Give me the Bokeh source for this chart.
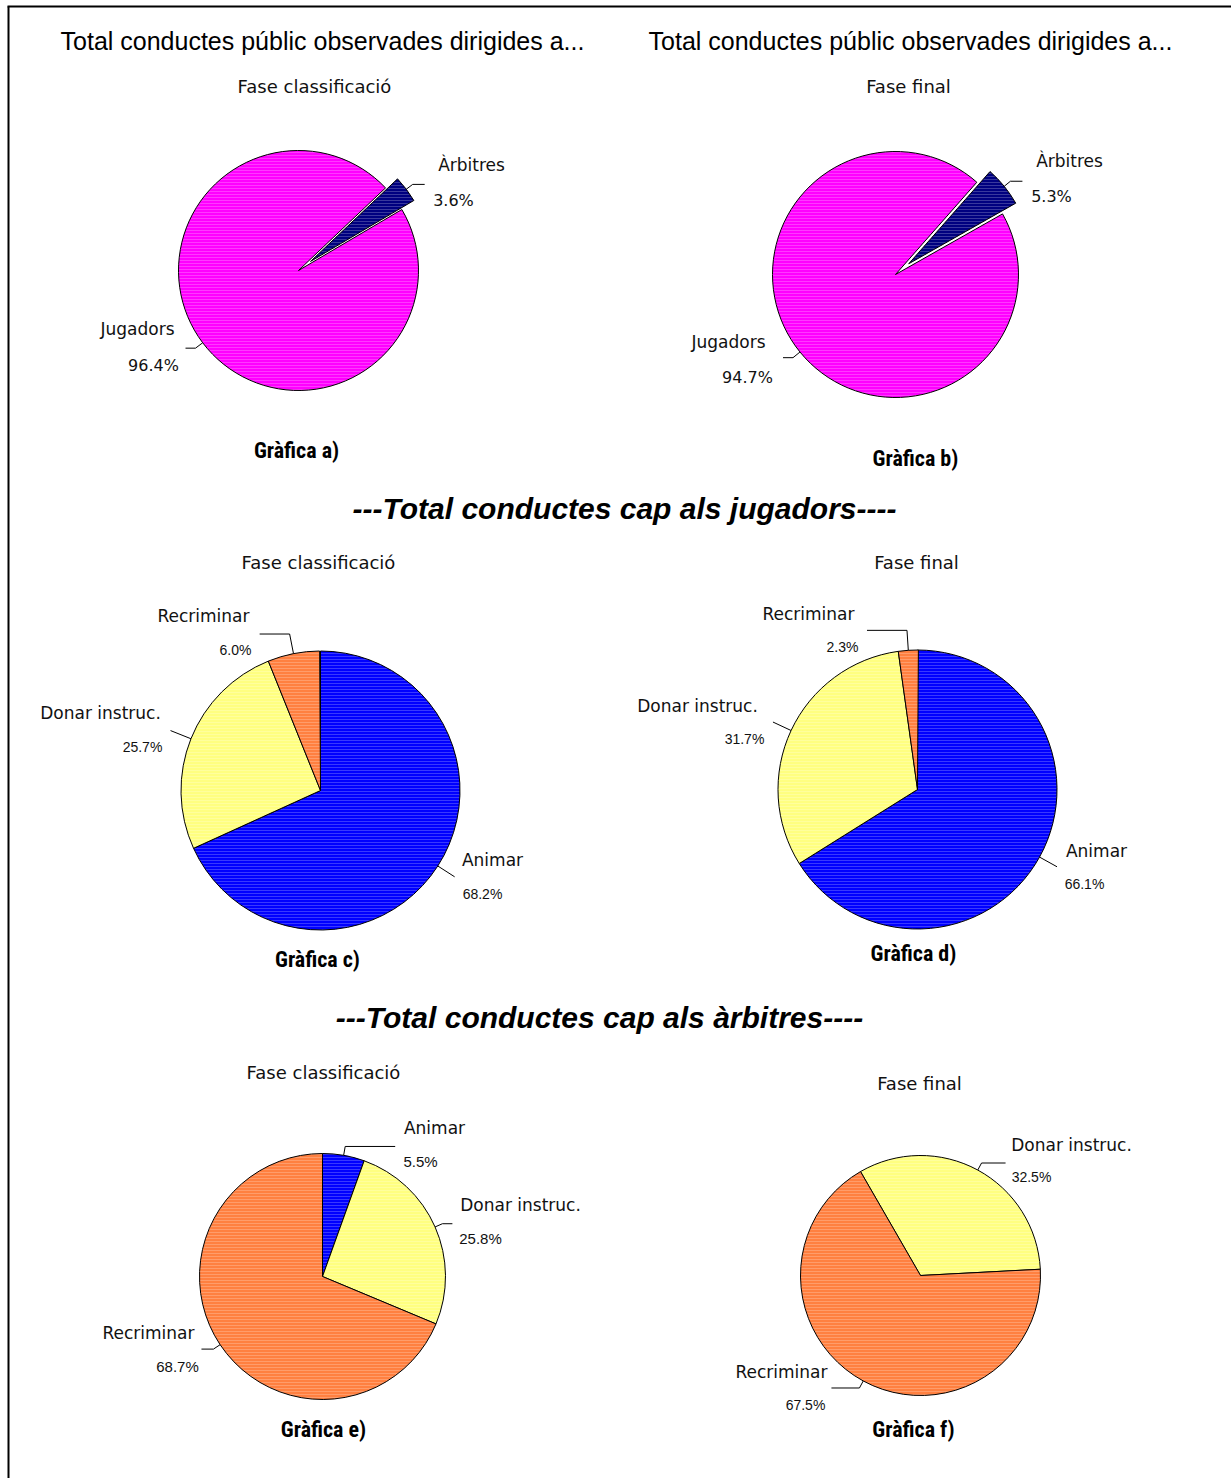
import math
from bokeh.plotting import figure
from bokeh.models import Range1d
from bokeh.embed import file_html
from bokeh.resources import INLINE
from bokeh.core.properties import value

# ---------------- data ----------------
cats_ab = ["Àrbitres", "Jugadors"]
pct_a = [3.6, 96.4]
pct_b = [5.3, 94.7]
cats_cd = ["Animar", "Donar instruc.", "Recriminar"]
pct_c = [68.2, 25.7, 6.0]
pct_d = [66.1, 31.7, 2.3]
cats_e = ["Animar", "Donar instruc.", "Recriminar"]
pct_e = [5.5, 25.8, 68.7]
cats_f = ["Donar instruc.", "Recriminar"]
pct_f = [32.5, 67.5]

title_top = "Total conductes públic observades dirigides a..."
phase_labels = ["Fase classificació", "Fase final"]
captions = ["Gràfica a)", "Gràfica b)", "Gràfica c)", "Gràfica d)", "Gràfica e)", "Gràfica f)"]
section_titles = ["---Total conductes cap als jugadors----", "---Total conductes cap als àrbitres----"]

colors = {
    "Àrbitres": "#000080",
    "Jugadors": "#FF00FF",
    "Animar": "#0000FF",
    "Donar instruc.": "#FFFF80",
    "Recriminar": "#FF8040",
}

# ---------------- layout ----------------
W, H = 1231, 1478


def X(px):
    return px


def Y(py):
    return H - py


p = figure(width=W, height=H, output_backend="svg", toolbar_location=None,
           x_range=Range1d(0, W), y_range=Range1d(0, H), min_border=0)
p.axis.visible = False
p.grid.visible = False
p.outline_line_color = None
p.background_fill_color = "white"
p.border_fill_color = "white"

SANS = value("'Liberation Sans', Arial, sans-serif")
VERD = value("'DejaVu Sans', Verdana, sans-serif")
NARROW = value("'Liberation Sans Narrow', 'Arial Narrow', 'Roboto Condensed', 'Open Sans Condensed', 'Liberation Sans', sans-serif")

# frame (top & left)
p.line([X(8), X(8)], [Y(1478), Y(6)], line_color="black", line_width=2)
p.line([X(7), X(1231)], [Y(6), Y(6)], line_color="black", line_width=2)


def draw_pie(cats, pcts, spec):
    cx, cy, r, start = spec["center"][0], spec["center"][1], spec["r"], spec["start"]
    explode = spec.get("explode", {})
    cum = 0.0
    for cat, v in zip(cats, pcts):
        a0 = start - cum * 3.6
        a1 = a0 - v * 3.6
        cum += v
        mid = math.radians((a0 + a1) / 2)
        e = explode.get(cat, 0)
        ox = X(cx) + e * math.cos(mid)
        oy = Y(cy) + e * math.sin(mid)
        p.wedge(x=[ox], y=[oy], radius=r,
                start_angle=[math.radians(a1)], end_angle=[math.radians(a0)],
                direction="anticlock", fill_color=colors[cat],
                line_color="black", line_width=1,
                hatch_pattern="horizontal_line", hatch_color="white",
                hatch_alpha=0.22, hatch_scale=3, hatch_weight=1)
        # leader line
        L, hlen = spec["leader"][cat]
        rx, ry = ox + r * math.cos(mid), oy + r * math.sin(mid)
        ex, ey = rx + L * math.cos(mid), ry + L * math.sin(mid)
        xs, ys = [rx, ex], [ry, ey]
        if hlen:
            xs.append(ex + hlen)
            ys.append(ey)
        p.line(xs, ys, line_color="black", line_width=1)
        # labels
        (nx, ny), (qx, qy) = spec["labels"][cat]
        p.text(x=[X(nx)], y=[Y(ny)], text=[cat], text_font=VERD,
               text_font_size=spec.get("name_size", "17px"),
               text_align="center", text_baseline="middle", text_color="#111111")
        p.text(x=[X(qx)], y=[Y(qy)], text=[f"{v:.1f}%"], text_font=spec.get("pct_font", SANS),
               text_font_size=spec.get("pct_size", "14px"),
               text_align="center", text_baseline="middle", text_color="#111111")


spec_a = dict(center=(298, 270), r=120, start=43.5, explode={"Àrbitres": 15},
              leader={"Àrbitres": (8, 12), "Jugadors": (9, -10)},
              labels={"Àrbitres": ((471, 164), (453, 200)), "Jugadors": ((137, 328), (153, 365))},
              pct_font=VERD, pct_size="16px")
spec_b = dict(center=(895, 274), r=123, start=48.6, explode={"Àrbitres": 17},
              leader={"Àrbitres": (8, 12), "Jugadors": (9, -10)},
              labels={"Àrbitres": ((1069, 160), (1051, 196)), "Jugadors": ((728, 341), (747, 377))},
              pct_font=VERD, pct_size="16px")
spec_c = dict(center=(320, 790), r=139.5, start=90,
              leader={"Animar": (20, 0), "Donar instruc.": (22, 0), "Recriminar": (20, -30)},
              labels={"Recriminar": ((203, 615), (235, 649)), "Donar instruc.": ((100, 712), (142, 746)),
                      "Animar": ((492, 859), (482, 893))},
              pct_size="14px")
spec_d = dict(center=(917, 789), r=139.5, start=90,
              leader={"Animar": (20, 0), "Donar instruc.": (20, 0), "Recriminar": (20, -40)},
              labels={"Recriminar": ((808, 613), (842, 646)), "Donar instruc.": ((697, 705), (744, 738)),
                      "Animar": ((1096, 850), (1084, 883))},
              pct_size="14px")
spec_e = dict(center=(322, 1276), r=123, start=90,
              leader={"Animar": (9, 50), "Donar instruc.": (8, 10), "Recriminar": (8, -12)},
              labels={"Animar": ((434, 1127), (420, 1161)), "Donar instruc.": ((520, 1204), (480, 1238)),
                      "Recriminar": ((148, 1332), (177, 1366))},
              pct_size="15px")
spec_f = dict(center=(920, 1275), r=120, start=120,
              leader={"Donar instruc.": (8, 24), "Recriminar": (8, -28)},
              labels={"Donar instruc.": ((1071, 1144), (1031, 1176)), "Recriminar": ((781, 1371), (805, 1404))},
              pct_size="14px")

draw_pie(cats_ab, pct_a, spec_a)
draw_pie(cats_ab, pct_b, spec_b)
draw_pie(cats_cd, pct_c, spec_c)
draw_pie(cats_cd, pct_d, spec_d)
draw_pie(cats_e, pct_e, spec_e)
draw_pie(cats_f, pct_f, spec_f)

# titles
p.text(x=[X(322), X(910)], y=[Y(40), Y(40)], text=[title_top, title_top], text_font=SANS,
       text_font_size="25px", text_align="center", text_baseline="middle", text_color="black")
phase_pos = [(314, 86), (908, 86), (318, 562), (916, 562), (323, 1072), (919, 1083)]
p.text(x=[X(a) for a, b in phase_pos], y=[Y(b) for a, b in phase_pos],
       text=[phase_labels[i % 2] for i in range(6)], text_font=VERD, text_font_size="18px",
       text_align="center", text_baseline="middle", text_color="#111111")
cap_pos = [(296, 450), (915, 458), (317, 959), (913, 953), (323, 1429), (913, 1429)]
p.text(x=[X(a) for a, b in cap_pos], y=[Y(b) for a, b in cap_pos], text=captions,
       text_font=NARROW, text_font_size="22px", text_font_style="bold",
       text_align="center", text_baseline="middle", text_color="black")
p.text(x=[X(624), X(599)], y=[Y(508), Y(1017)], text=section_titles, text_font=SANS,
       text_font_size="30px", text_font_style="bold italic",
       text_align="center", text_baseline="middle", text_color="black")

open("out.html", "w").write(file_html(p, INLINE))
